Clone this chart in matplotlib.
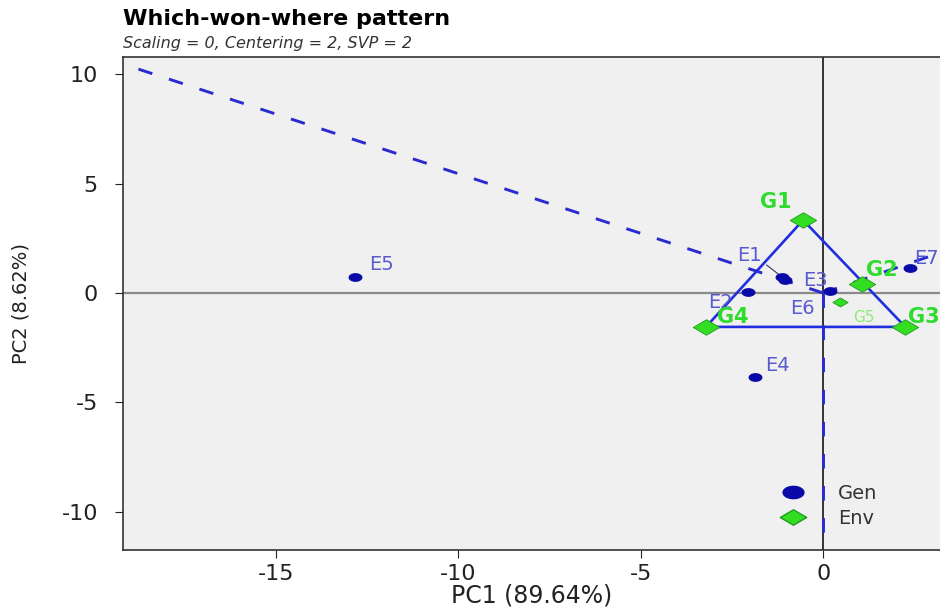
import numpy as np
import matplotlib.pyplot as plt
from matplotlib.lines import Line2D
from matplotlib.path import Path

plt.rcParams['font.family'] = ['DejaVu Sans']
plt.rcParams['axes.unicode_minus'] = False

# genotype scores (plotted as "Gen", labelled E*)
gen_names = ['E1', 'E2', 'E3', 'E4', 'E5', 'E6', 'E7']
gen_pc1 = [-1.12, -2.05, -1.04, -1.86, -12.82, 0.19, 2.38]
gen_pc2 = [0.72, 0.05, 0.59, -3.84, 0.73, 0.09, 1.14]

# environment scores (plotted as "Env", labelled G*)
env_names = ['G1', 'G2', 'G3', 'G4', 'G5']
env_pc1 = [-0.55, 1.07, 2.25, -3.21, 0.47]
env_pc2 = [3.33, 0.41, -1.55, -1.55, -0.41]

# polygon vertices (order around the hull)
hull = ['G1', 'G3', 'G4']

pc1_pct = 89.64
pc2_pct = 8.62

# wide (stretched) marker shapes like the reference
t = np.linspace(0, 2 * np.pi, 41)
ellipse = Path(np.column_stack([1.7 * np.cos(t), np.sin(t)]), closed=True)
diamond = Path([(0, 1), (1.7, 0), (0, -1), (-1.7, 0), (0, 1)], closed=True)

fig = plt.figure(figsize=(9.4, 6.08), dpi=100)
ax = fig.add_axes([0.1309, 0.0954, 0.8691, 0.8109])
ax.set_facecolor('#f0f0f0')

ax.set_xlim(-19.18, 3.2)
ax.set_ylim(-11.74, 10.78)

# reference lines
ax.axhline(0, color='#8a8a8a', lw=1.6, zorder=1)
ax.axvline(0, color='black', lw=1.1, zorder=1)

# polygon
pts = {n: np.array([x, y]) for n, x, y in zip(env_names, env_pc1, env_pc2)}
poly = np.array([pts[n] for n in hull] + [pts[hull[0]]])
ax.plot(poly[:, 0], poly[:, 1], color='#1f2fe0', lw=1.9, zorder=2)

# perpendicular lines from origin to each side, extended
for i in range(len(hull)):
    a = pts[hull[i]]
    b = pts[hull[(i + 1) % len(hull)]]
    d = b - a
    k = -np.dot(a, d) / np.dot(d, d)
    foot = a + k * d
    u = foot / np.linalg.norm(foot)
    end = u * 60
    ax.plot([0, end[0]], [0, end[1]], color='#2a2ad0', lw=2.1,
            ls=(0, (5, 6)), zorder=2)

# points
ax.plot(gen_pc1, gen_pc2, ls='', marker=ellipse, markersize=9,
        color='#0a0aa8', zorder=4)
ax.plot(env_pc1[:4], env_pc2[:4], ls='', marker=diamond, markersize=19,
        color='#33dd22', markeredgecolor='#229922', markeredgewidth=0.6,
        zorder=5)
ax.plot(env_pc1[4:], env_pc2[4:], ls='', marker=diamond, markersize=11,
        color='#33dd22', markeredgecolor='#229922', markeredgewidth=0.6,
        zorder=5)

# labels
gen_off = {'E1': (-33, 22), 'E2': (-28, -11), 'E3': (30, 0), 'E4': (22, 12),
           'E5': (26, 12), 'E6': (-28, -17), 'E7': (16, 10)}
for n, x, y in zip(gen_names, gen_pc1, gen_pc2):
    ox, oy = gen_off[n]
    ax.annotate(n, (x, y), xytext=(ox, oy), textcoords='offset pixels',
                ha='center', va='center', fontsize=14, color='#5a5ad0',
                zorder=6)
# connector for the E1 label
ax.annotate('', (gen_pc1[0], gen_pc2[0]), xytext=(-18, 14),
            textcoords='offset pixels',
            arrowprops=dict(arrowstyle='-', color='#333366', lw=0.8))

env_off = {'G1': (-27, 18), 'G2': (20, 14), 'G3': (18, 10), 'G4': (27, 10),
           'G5': (24, -16)}
for n, x, y in zip(env_names, env_pc1, env_pc2):
    ox, oy = env_off[n]
    if n == 'G5':
        ax.annotate(n, (x, y), xytext=(ox, oy), textcoords='offset pixels',
                    ha='center', va='center', fontsize=11, color='#8aea7a',
                    zorder=6)
    else:
        ax.annotate(n, (x, y), xytext=(ox, oy), textcoords='offset pixels',
                    ha='center', va='center', fontsize=15, fontweight='bold',
                    color='#2edc2e', zorder=6)

# axes styling
ax.set_xticks([-15, -10, -5, 0])
ax.set_yticks([-10, -5, 0, 5, 10])
ax.tick_params(labelsize=16, colors='#222222', length=6)
ax.tick_params(axis='x', pad=4)
ax.tick_params(axis='y', pad=12)
for s in ax.spines.values():
    s.set_color('#333333')
    s.set_linewidth(1.2)
ax.spines['right'].set_visible(False)

ax.set_xlabel(f'PC1 ({pc1_pct:.2f}%)', fontsize=17, color='#222222',
              labelpad=0)
ax.set_ylabel(f'PC2 ({pc2_pct:.2f}%)', fontsize=14, color='#222222')
ax.yaxis.set_label_coords(-0.113, 0.5)

# legend
handles = [
    Line2D([], [], marker=ellipse, ls='', markersize=15, color='#0a0aa8',
           label='Gen'),
    Line2D([], [], marker=diamond, ls='', markersize=19, color='#33dd22',
           markeredgecolor='#229922', label='Env'),
]
ax.legend(handles=handles, loc='center left', bbox_to_anchor=(0.775, 0.09),
          frameon=False, fontsize=14, handletextpad=1.3, labelspacing=0.3,
          labelcolor='#333333')

fig.text(0.1309, 0.968, 'Which-won-where pattern', fontsize=16,
         fontweight='bold', ha='left', va='center')
fig.text(0.1309, 0.929, 'Scaling = 0, Centering = 2, SVP = 2', fontsize=11.5,
         style='italic', ha='left', va='center', color='#333333')

fig.savefig('out.png', dpi=100)
